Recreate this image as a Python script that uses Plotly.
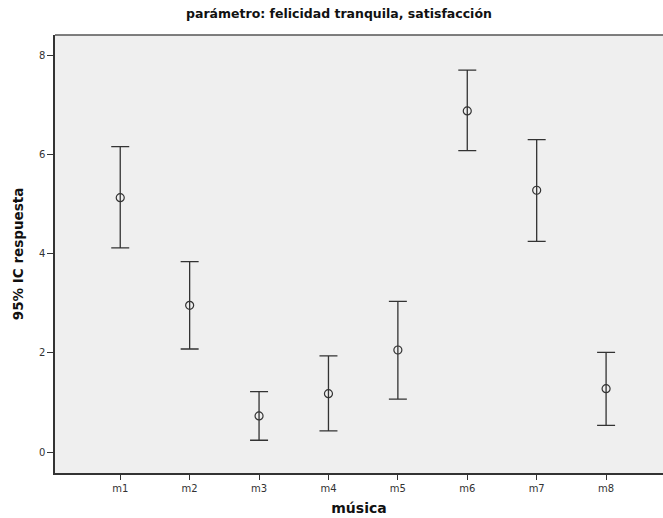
import plotly.graph_objects as go

categorias = ["m1", "m2", "m3", "m4", "m5", "m6", "m7", "m8"]
media = [5.13, 2.96, 0.73, 1.18, 2.06, 6.88, 5.28, 1.28]
ic_sup = [6.16, 3.84, 1.22, 1.94, 3.04, 7.70, 6.30, 2.01]
ic_inf = [4.12, 2.08, 0.24, 0.43, 1.07, 6.08, 4.25, 0.54]

err_plus = [s - m for s, m in zip(ic_sup, media)]
err_minus = [m - i for m, i in zip(media, ic_inf)]

x_idx = list(range(len(categorias)))

fig = go.Figure()
fig.add_trace(go.Scatter(
    x=x_idx, y=media, mode="markers",
    marker=dict(symbol="circle-open", size=8, color="#333333", line=dict(width=1.2, color="#333333")),
    error_y=dict(type="data", symmetric=False, array=err_plus, arrayminus=err_minus,
                 color="#333333", thickness=1.3, width=9),
    showlegend=False,
))

fig.update_layout(
    width=663, height=518,
    margin=dict(l=55, r=0, t=35, b=45),
    paper_bgcolor="white",
    plot_bgcolor="#efefef",
    font=dict(family="DejaVu Sans", color="#333333"),
    annotations=[
        dict(text="<b>parámetro: felicidad tranquila, satisfacción</b>", xref="paper", yref="paper",
             x=0.467, y=1, yshift=22, xanchor="center", yanchor="middle", showarrow=False,
             font=dict(size=12.5, color="#111111")),
    ],
    shapes=[dict(type="line", xref="paper", yref="paper", x0=0, x1=1, y0=1, y1=1,
                 line=dict(color="#555555", width=1.5))],
)
fig.update_xaxes(
    range=[-0.94, 7.82], tickmode="array", tickvals=x_idx, ticktext=categorias,
    showline=True, linecolor="#333333", linewidth=1.5,
    ticks="outside", ticklen=5, tickcolor="#333333", tickwidth=1.2,
    showgrid=False, zeroline=False, tickfont=dict(size=10, color="#333333"),
    title=dict(text="<b>música</b>", font=dict(size=14, color="#111111"), standoff=10),
)
fig.update_yaxes(
    range=[-0.42, 8.41], tickvals=[0, 2, 4, 6, 8],
    showline=True, linecolor="#333333", linewidth=1.5,
    ticks="outside", ticklen=6, tickcolor="#333333", tickwidth=1.2,
    showgrid=False, zeroline=False, tickfont=dict(size=10, color="#333333"),
    title=dict(text="<b>95% IC respuesta</b>", font=dict(size=13.5, color="#111111"), standoff=12),
)

fig.write_html("out.html", config={"displayModeBar": False},
               post_script="document.body.style.margin='0';document.body.style.overflow='hidden';")
